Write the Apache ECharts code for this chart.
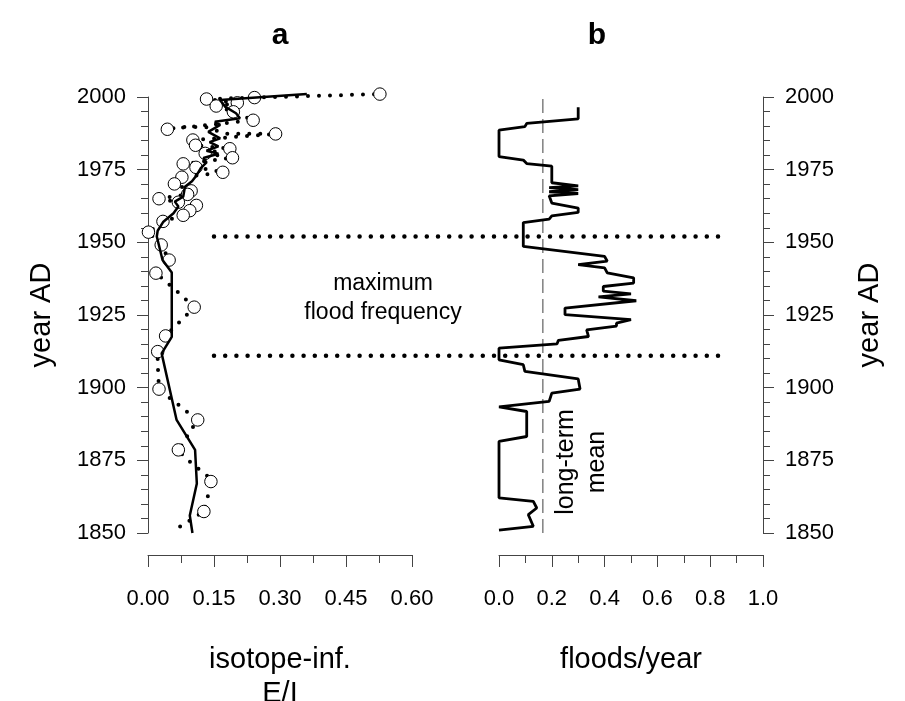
<!DOCTYPE html>
<html><head><meta charset="utf-8">
<script src="https://cdn.jsdelivr.net/npm/echarts@6/dist/echarts.min.js"></script>
<style>html,body{margin:0;padding:0;background:#fff}#c{width:905px;height:701px}</style>
</head><body><div id="c"></div>
<script>
const FONT = "'Liberation Sans', Arial, sans-serif";

// ---- data ----
const yearRange = [1850, 2000];
const eiTicks = [0, 0.6, 0.15];          // min, max, interval (isotope-inferred E/I)
const floodTicks = [0, 1.0, 0.2];        // min, max, interval (floods/year)

// smoothed isotope-inferred E/I  [value, year]
const eiSmoothed = [
  [0.101,1850],[0.095,1856],[0.111,1867],[0.107,1878.6],[0.065,1888.9],[0.031,1911.8],
  [0.054,1917.5],[0.054,1939.6],[0.033,1943.9],[0.020,1952],[0.022,1954],[0.035,1957.1],
  [0.058,1960],[0.069,1962.3],[0.061,1964],[0.080,1965.7],[0.084,1969.1],[0.100,1971],
  [0.111,1973.2],[0.120,1975.5],[0.133,1977.5],[0.126,1979],[0.160,1980.5],[0.133,1981.5],
  [0.160,1983],[0.140,1984.5],[0.164,1985.8],[0.137,1988],[0.164,1990.4],[0.152,1991.5],
  [0.209,1992.7],[0.200,1994.4],[0.175,1996.7],[0.164,1999],[0.361,2001]
];

// raw isotope-inferred E/I series (dotted)  [value, year]
const eiRaw = [
  [0.073,1852.2],[0.127,1857.4],[0.135,1862],[0.141,1866],[0.143,1867.7],[0.133,1870],
  [0.103,1873.4],[0.079,1876.8],[0.069,1878.6],[0.080,1880.9],[0.095,1884.9],[0.113,1888.9],
  [0.089,1891.7],[0.064,1894.8],[0.037,1897.8],[0.025,1899.5],[0.023,1905.2],[0.022,1909.2],
  [0.022,1912.4],[0.040,1917.8],[0.061,1921],[0.088,1925],[0.105,1927.7],[0.071,1932.5],
  [0.045,1935.9],[0.018,1939.4],[0.048,1943.9],[0.030,1949.1],[0.001,1953.5],[0.034,1957.2],
  [0.080,1959.3],[0.095,1960.9],[0.110,1962.7],[0.069,1963.8],[0.025,1965.0],[0.090,1966.5],
  [0.098,1967.7],[0.060,1970.1],[0.077,1972.4],[0.170,1974.1],[0.109,1975.8],[0.080,1977.0],
  [0.192,1979.1],[0.130,1980.6],[0.186,1982.2],[0.108,1983.4],[0.102,1985.2],[0.290,1987.3],
  [0.175,1987.4],[0.134,1989.6],[0.080,1989.7],[0.044,1988.9],[0.239,1992.0],[0.194,1994.9],
  [0.155,1996.9],[0.203,1998.0],[0.133,1999.3],[0.242,1999.8],[0.527,2001.0]
];

// sampled E/I values (open circles)  [value, year]
const eiSamples = [
  [0.527,2001.0],[0.242,1999.8],[0.133,1999.3],[0.203,1998.0],[0.155,1996.9],[0.194,1994.9],
  [0.239,1992.0],[0.044,1988.9],[0.290,1987.3],[0.102,1985.2],[0.108,1983.4],[0.186,1982.2],
  [0.130,1980.6],[0.192,1979.1],[0.080,1977.0],[0.109,1975.8],[0.170,1974.1],[0.077,1972.4],
  [0.060,1970.1],[0.098,1967.7],[0.090,1966.5],[0.025,1965.0],[0.069,1963.8],[0.110,1962.7],
  [0.095,1960.9],[0.080,1959.3],[0.034,1957.2],[0.001,1953.5],[0.030,1949.1],[0.048,1943.9],
  [0.018,1939.4],[0.105,1927.7],[0.040,1917.8],[0.022,1912.4],[0.025,1899.5],[0.113,1888.9],
  [0.069,1878.6],[0.143,1867.7],[0.127,1857.4]
];

// flood frequency (floods/year)  [value, year]
const floodFreq = [
  [0.30,1996.5],[0.30,1992.5],[0.105,1990.9],[0.098,1989.8],[0.0,1988.6],[0.0,1979.5],
  [0.092,1978.3],[0.105,1977.1],[0.20,1976.2],[0.20,1970.5],[0.30,1969.4],[0.19,1968.8],
  [0.30,1968.1],[0.19,1967.4],[0.30,1966.8],[0.19,1966.0],[0.20,1963.5],[0.30,1961.8],
  [0.30,1960.3],[0.20,1959.1],[0.19,1958.0],[0.092,1956.8],[0.092,1948.6],[0.40,1945.2],
  [0.41,1943.5],[0.30,1942.3],[0.40,1941.2],[0.41,1939.5],[0.51,1937.8],[0.51,1936.0],
  [0.395,1934.8],[0.395,1933.2],[0.50,1932.3],[0.377,1931.2],[0.52,1929.9],[0.25,1927.4],
  [0.25,1925.1],[0.50,1923.4],[0.445,1922.2],[0.445,1921.2],[0.332,1919.9],[0.339,1917.6],
  [0.225,1916.3],[0.22,1915.1],[0.0,1913.6],[0.0,1909.6],[0.092,1907.9],[0.098,1905.6],
  [0.30,1903.0],[0.307,1899.5],[0.20,1898.1],[0.19,1895.3],[0.0,1893.4],[0.105,1891.8],
  [0.105,1883.2],[0.0,1881.5],[0.0,1862.1],[0.13,1860.9],[0.143,1858.6],[0.111,1856.3],
  [0.13,1852.3],[0.0,1851.0]
];

const longTermMean = 0.166;
const maxFloodYears = [1952, 1911];
// span of the dotted period lines, in panel-a E/I units on the shared overlay axis
const periodLineSpan = [0.15, 1.30];
const overlayMax = 1.4;

// ---- chart ----
const chart = echarts.init(document.getElementById('c'), null, {renderer: 'canvas'});
const axisColor = '#444';
const tickLabel = {color: '#000', fontSize: 22, fontFamily: FONT};

function xAx(grid, t, digits, name) {
  return {
    gridIndex: grid, type: 'value', min: t[0], max: t[1], interval: t[2],
    position: 'bottom', offset: 22,
    axisLine: {show: true, onZero: false, lineStyle: {color: axisColor, width: 1}},
    axisTick: {show: true, length: 12, lineStyle: {color: axisColor}},
    minorTick: {show: true, splitNumber: 2, length: 8, lineStyle: {color: axisColor}},
    splitLine: {show: false},
    axisLabel: Object.assign({margin: 33, formatter: v => v.toFixed(digits)}, tickLabel),
    name: name, nameLocation: 'middle', nameGap: 88,
    nameTextStyle: {color: '#000', fontSize: 29, fontFamily: FONT, lineHeight: 34}
  };
}
function yAx(grid, pos) {
  return {
    gridIndex: grid, type: 'value', min: yearRange[0], max: yearRange[1], interval: 25,
    position: pos,
    axisLine: {show: true, onZero: false, lineStyle: {color: axisColor, width: 1}},
    axisTick: {show: true, length: 11, lineStyle: {color: axisColor}},
    minorTick: {show: true, splitNumber: 5, length: 7, lineStyle: {color: axisColor}},
    splitLine: {show: false},
    axisLabel: Object.assign({margin: 22, formatter: v => String(v)}, tickLabel),
    name: 'year AD', nameLocation: 'middle', nameGap: 92, nameRotate: 90,
    nameTextStyle: {color: '#000', fontSize: 29, fontFamily: FONT}
  };
}
const gridBase = {top: 97, height: 436, containLabel: false, outerBoundsMode: 'none'};

const option = {
  animation: false,
  backgroundColor: '#fff',
  grid: [
    Object.assign({left: 148, width: 264}, gridBase),
    Object.assign({left: 499, width: 264}, gridBase),
    Object.assign({left: 148, width: 616}, gridBase)
  ],
  xAxis: [
    xAx(0, eiTicks, 2, 'isotope-inf.\nE/I'),
    xAx(1, floodTicks, 1, 'floods/year'),
    {gridIndex: 2, type: 'value', min: 0, max: overlayMax, show: false}
  ],
  yAxis: [
    yAx(0, 'left'),
    yAx(1, 'right'),
    {gridIndex: 2, type: 'value', min: yearRange[0], max: yearRange[1], show: false}
  ],
  graphic: [
    {type: 'text', x: 280, y: 36, style: {text: 'a', font: 'bold 30px ' + FONT, fill: '#000', align: 'center', verticalAlign: 'middle'}},
    {type: 'text', x: 597, y: 36, style: {text: 'b', font: 'bold 30px ' + FONT, fill: '#000', align: 'center', verticalAlign: 'middle'}},
    {type: 'text', x: 383, y: 298, style: {text: 'maximum\nflood frequency', font: '23px ' + FONT, lineHeight: 29, fill: '#000', align: 'center', verticalAlign: 'middle'}},
    {type: 'text', x: 582, y: 462, rotation: Math.PI / 2, style: {text: 'long-term\nmean', font: '25px ' + FONT, lineHeight: 31, fill: '#000', align: 'center', verticalAlign: 'middle'}}
  ],
  series: [
    {type: 'line', xAxisIndex: 0, yAxisIndex: 0, data: eiRaw, showSymbol: false, clip: false, silent: true,
     lineStyle: {color: '#000', width: 4, type: [0, 11], cap: 'round'}, z: 2},
    {type: 'scatter', xAxisIndex: 0, yAxisIndex: 0, data: eiSamples, symbol: 'circle', symbolSize: 12.5, clip: false, silent: true,
     itemStyle: {color: '#fff', borderColor: '#000', borderWidth: 1, opacity: 1}, z: 3},
    {type: 'line', xAxisIndex: 0, yAxisIndex: 0, data: eiSmoothed, showSymbol: false, clip: false, silent: true,
     lineStyle: {color: '#000', width: 2.5}, z: 4},
    {type: 'line', xAxisIndex: 1, yAxisIndex: 1, data: [[longTermMean, yearRange[0]], [longTermMean, yearRange[1]]],
     showSymbol: false, clip: false, silent: true, lineStyle: {color: '#808080', width: 1.5, type: [14, 6]}, z: 2},
    {type: 'line', xAxisIndex: 1, yAxisIndex: 1, data: floodFreq, showSymbol: false, clip: false, silent: true,
     lineStyle: {color: '#000', width: 2.8}, z: 3},
    {type: 'line', xAxisIndex: 2, yAxisIndex: 2, data: [[periodLineSpan[0], maxFloodYears[0]], [periodLineSpan[1], maxFloodYears[0]]],
     showSymbol: false, clip: false, silent: true, lineStyle: {color: '#000', width: 4.5, type: [0, 11.2], cap: 'round'}, z: 2},
    {type: 'line', xAxisIndex: 2, yAxisIndex: 2, data: [[periodLineSpan[0], maxFloodYears[1]], [periodLineSpan[1], maxFloodYears[1]]],
     showSymbol: false, clip: false, silent: true, lineStyle: {color: '#000', width: 4.5, type: [0, 11.2], cap: 'round'}, z: 2}
  ]
};
chart.setOption(option);
</script>
</body></html>
